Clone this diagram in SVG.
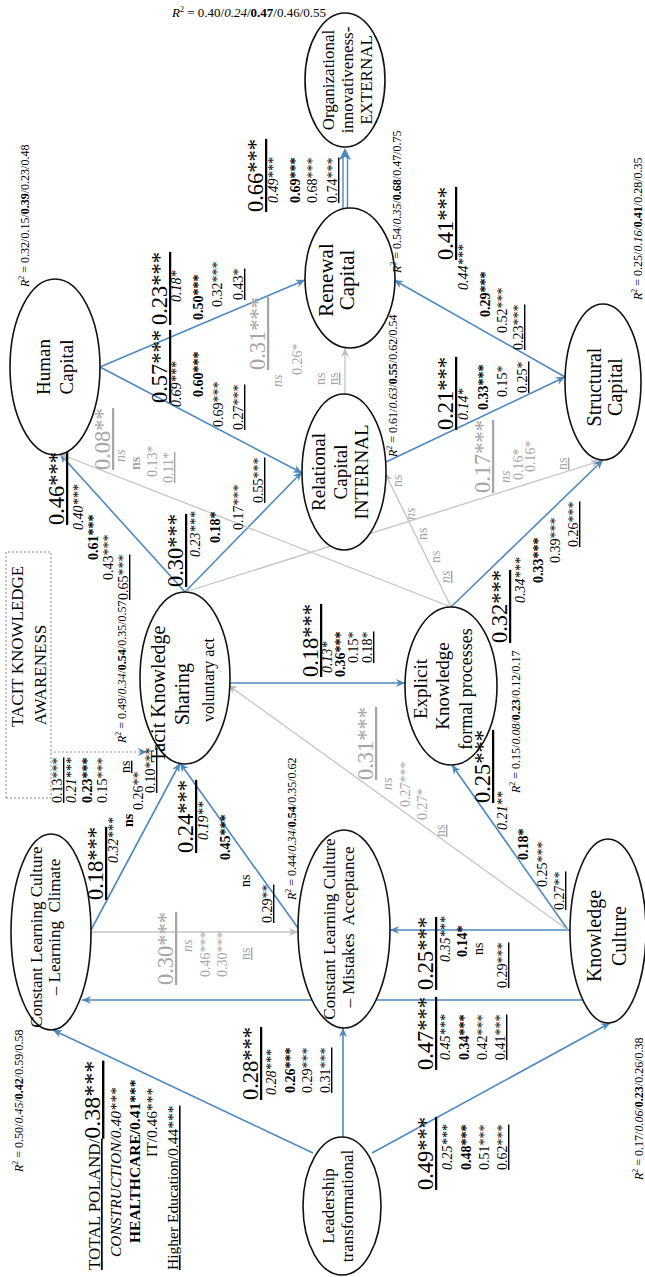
<svg xmlns="http://www.w3.org/2000/svg" width="645" height="1277" viewBox="0 0 645 1277">
<defs>
<style>
text{font-family:"Liberation Serif","Times New Roman",serif;fill:#000}
.nd{fill:#fff;stroke:#111;stroke-width:1.6}
.bl{stroke:#4d89c1;stroke-width:1.6;fill:none;marker-end:url(#ab)}
.gr{stroke:#c4c4c4;stroke-width:1.3;fill:none;marker-end:url(#ag)}
.nt{font-size:19px;text-anchor:middle}
.B{font-size:22.5px}
.s{font-size:14px}
.i{font-style:italic}
.b{font-weight:bold}
.u{text-decoration:underline}
.g{fill:#a6a6a6}
.r{font-size:12px}
.sp{font-size:8px}
</style>
<marker id="ab" viewBox="0 0 10 10" refX="10" refY="5" markerWidth="10" markerHeight="9" orient="auto" markerUnits="userSpaceOnUse"><path d="M0,0.5 L10,5 L0,9.5 L3,5z" fill="#4d89c1"/></marker>
<marker id="ag" viewBox="0 0 10 10" refX="10" refY="5" markerWidth="10" markerHeight="9" orient="auto" markerUnits="userSpaceOnUse"><path d="M0,0.5 L10,5 L0,9.5 L3,5z" fill="#bdbdbd"/></marker>
</defs>
<rect width="645" height="1277" fill="#fff"/>
<g transform="matrix(0,-1,1,0,0,1277)">
<g id="connectors">
<line class="bl" x1="124" y1="313" x2="247" y2="53"/>
<line class="bl" x1="140" y1="343" x2="249" y2="343"/>
<line class="bl" x1="124" y1="372" x2="254" y2="610"/>
<line class="bl" x1="277" y1="583" x2="277" y2="82"/>
<line class="bl" x1="347" y1="572" x2="347" y2="390"/>
<line class="gr" x1="345" y1="91" x2="345" y2="298"/>
<line class="bl" x1="347" y1="91" x2="514" y2="180"/>
<line class="bl" x1="349" y1="298" x2="514" y2="180"/>
<line class="bl" x1="347" y1="568" x2="512" y2="452"/>
<line class="gr" x1="347" y1="568" x2="592" y2="228"/>
<line class="bl" x1="594" y1="230" x2="594" y2="405"/>
<line class="bl" x1="685" y1="185" x2="823" y2="60"/>
<line class="bl" x1="685" y1="185" x2="805" y2="302"/>
<line class="gr" x1="685" y1="185" x2="816" y2="600"/>
<line class="gr" x1="670" y1="451" x2="823" y2="60"/>
<line class="gr" x1="670" y1="451" x2="804" y2="385"/>
<line class="bl" x1="670" y1="451" x2="817" y2="603"/>
<line class="bl" x1="910" y1="100" x2="997" y2="305"/>
<line class="bl" x1="910" y1="100" x2="804" y2="302"/>
<line class="gr" x1="883" y1="345" x2="929" y2="345"/>
<line class="bl" x1="815" y1="386" x2="900" y2="565"/>
<line class="bl" x1="900" y1="565" x2="997" y2="394"/>
<path d="M1069,343 H1121 M1069,347.5 H1121" stroke="#4d89c1" stroke-width="1.4" fill="none"/>
<path d="M1129,345 L1117,339 L1120,345 L1117,351z" fill="#4d89c1"/>
<line x1="525" y1="50" x2="525" y2="147" stroke="#999" stroke-width="1.2" stroke-dasharray="2,2" marker-end="url(#ab)"/>
</g>
<g id="n-leadership"><ellipse class="nd" cx="71" cy="342" rx="69" ry="39"/><text class="nt" x="71" y="334" style="font-size:17px">Leadership</text><text class="nt" x="71" y="353" style="font-size:17px">transformational</text></g>
<g id="n-learning"><ellipse class="nd" cx="345" cy="51" rx="98" ry="40"/><text class="nt" x="340" y="42" style="font-size:17px">Constant Learning Culture</text><text class="nt" x="350" y="60" style="font-size:17px" xml:space="preserve">– Learning  Climate</text></g>
<g id="n-mistakes"><ellipse class="nd" cx="348" cy="344" rx="99" ry="46"/><text class="nt" x="348" y="335" style="font-size:17px">Constant Learning Culture</text><text class="nt" x="350" y="354" style="font-size:17px" xml:space="preserve">– Mistakes  Acceptance</text></g>
<g id="n-knowledge"><ellipse class="nd" cx="346" cy="608" rx="92" ry="38"/><text class="nt" x="341" y="601" style="font-size:20px">Knowledge</text><text class="nt" x="341" y="626" style="font-size:20px">Culture</text></g>
<g id="n-tacit"><ellipse class="nd" cx="599" cy="185" rx="86" ry="45"/><text class="nt" x="583" y="165" style="font-size:20px">Tacit Knowledge</text><text class="nt" x="583" y="189" style="font-size:20px">Sharing</text><text class="nt" x="597" y="214" style="font-size:16px">voluntary act</text></g>
<g id="n-explicit"><ellipse class="nd" cx="591" cy="451" rx="79" ry="46"/><text class="nt" x="588" y="427">Explicit</text><text class="nt" x="591" y="449">Knowledge</text><text class="nt" x="588" y="472" style="font-size:18px">formal processes</text></g>
<g id="n-human"><ellipse class="nd" cx="910" cy="55" rx="88" ry="45"/><text class="nt" x="910" y="50">Human</text><text class="nt" x="910" y="73">Capital</text></g>
<g id="n-relational"><ellipse class="nd" cx="805" cy="344" rx="78" ry="42"/><text class="nt" x="805" y="325">Relational</text><text class="nt" x="805" y="347">Capital</text><text class="nt" x="805" y="368">INTERNAL</text></g>
<g id="n-structural"><ellipse class="nd" cx="895" cy="603" rx="78" ry="38"/><text class="nt" x="890" y="601" style="font-size:20px">Structural</text><text class="nt" x="890" y="622" style="font-size:20px">Capital</text></g>
<g id="n-renewal"><ellipse class="nd" cx="999" cy="350" rx="70" ry="45"/><text class="nt" x="997" y="333" style="font-size:21px">Renewal</text><text class="nt" x="997" y="354" style="font-size:21px">Capital</text></g>
<g id="n-org"><ellipse class="nd" cx="1197" cy="345" rx="67" ry="40"/><text class="nt" x="1197" y="334" style="font-size:17px">Organizational</text><text class="nt" x="1197" y="353" style="font-size:17px">innovativeness-</text><text class="nt" x="1197" y="372" style="font-size:17px">EXTERNAL</text></g>
<g id="n-awareness"><rect x="479" y="6" width="246" height="45" fill="#fff" stroke="#888" stroke-width="1" stroke-dasharray="2,2"/><text x="550" y="23" style="font-size:17px">TACIT KNOWLEDGE</text><text x="602" y="46" style="font-size:17px;text-anchor:middle">AWARENESS</text></g>
<g id="labels">
<text x="7" y="100" class="u" style="font-size:17px">TOTAL POLAND/<tspan style="font-size:24px">0.38***</tspan></text>
<text x="20" y="121" class="i" style="font-size:15.5px">CONSTRUCTION/0.40***</text>
<text x="34" y="140" class="b" style="font-size:15.5px">HEALTHCARE/0.41***</text>
<text x="120" y="157" style="font-size:15.5px">IT/0.46***</text>
<text x="7" y="178" class="u" style="font-size:15.5px">Higher Education/0.44***</text>

<text x="177" y="258" class="B u">0.28***</text><text x="182" y="276" class="s i">0.28***</text><text x="184" y="295" class="s b">0.26***</text><text x="184" y="312" class="s">0.29***</text><text x="184" y="330" class="s u">0.31***</text>
<text x="87" y="433" class="B u">0.49***</text><text x="107" y="452" class="s i">0.25***</text><text x="107" y="471" class="s b">0.48***</text><text x="107" y="489" class="s">0.51***</text><text x="107" y="507" class="s u">0.62***</text>
<text x="207" y="433" class="B u">0.47***</text><text x="217" y="450" class="s i">0.45***</text><text x="217" y="469" class="s b">0.34***</text><text x="217" y="487" class="s">0.42***</text><text x="217" y="505" class="s u">0.41***</text>
<text x="287" y="433" class="B u">0.25***</text><text x="315" y="450" class="s i">0.35***</text><text x="320" y="467" class="s b">0.14*</text><text x="322" y="483" class="s">ns</text><text x="289" y="507" class="s u">0.29***</text>
<text x="474" y="490" class="B u">0.25***</text><text x="447" y="507" class="s i">0.21**</text><text x="417" y="528" class="s b">0.18*</text><text x="390" y="547" class="s">0.25***</text><text x="367" y="564" class="s u">0.27**</text>
<text x="377" y="103" class="B u">0.18***</text><text x="414" y="118" class="s i">0.32***</text><text x="450" y="133" class="s b">ns</text><text x="467" y="143" class="s">0.26**</text><text x="484" y="155" class="s u">0.10***</text>
<text x="474" y="62" class="s u">0.13***</text><text x="474" y="76" class="s i">0.21***</text><text x="474" y="92" class="s b">0.23***</text><text x="474" y="107" class="s">0.15***</text><text x="504" y="130" class="s u">ns</text>
<text x="424" y="193" class="B u">0.24***</text><text x="437" y="208" class="s i">0.19**</text><text x="417" y="230" class="s b">0.45***</text><text x="390" y="250" class="s">ns</text><text x="354" y="272" class="s u">0.29**</text>
<text x="292" y="173" class="B u g">0.30***</text><text x="325" y="192" class="s i g">ns</text><text x="300" y="210" class="s g">0.46***</text><text x="300" y="227" class="s g">0.30***</text><text x="317" y="250" class="s u g">ns</text>
<text x="600" y="318" class="B u">0.18***</text><text x="604" y="332" class="s i">0.13*</text><text x="600" y="345" class="s b">0.36***</text><text x="614" y="358" class="s">0.15*</text><text x="614" y="372" class="s u">0.18*</text>
<text x="497" y="373" class="B u g">0.31***</text><text x="487" y="392" class="s i g">ns</text><text x="470" y="410" class="s g">0.27***</text><text x="457" y="427" class="s g">0.27*</text><text x="440" y="445" class="s u g">ns</text>
<text x="752" y="64" class="B u">0.46***</text><text x="747" y="83" class="s i">0.40***</text><text x="717" y="98" class="s b">0.61***</text><text x="697" y="113" class="s">0.43***</text><text x="677" y="128" class="s u">0.65***</text>
<text x="690" y="183" class="B u">0.30***</text><text x="720" y="200" class="s i">0.23***</text><text x="734" y="220" class="s b">0.18*</text><text x="747" y="243" class="s">0.17***</text><text x="774" y="263" class="s u">0.55***</text>
<text x="874" y="167" class="B u">0.57***</text><text x="870" y="181" class="s i">0.69***</text><text x="880" y="203" class="s b">0.60***</text><text x="850" y="223" class="s">0.69***</text><text x="847" y="243" class="s u">0.27***</text>
<text x="952" y="167" class="B u">0.23***</text><text x="975" y="181" class="s i">0.18*</text><text x="957" y="203" class="s b">0.50***</text><text x="970" y="222" class="s">0.32***</text><text x="977" y="243" class="s u">0.43*</text>
<text x="1065" y="263" class="B u">0.66***</text><text x="1074" y="278" class="s i">0.49***</text><text x="1074" y="300" class="s b">0.69***</text><text x="1074" y="317" class="s">0.68***</text><text x="1074" y="337" class="s u">0.74***</text>
<text x="907" y="265" class="B u g">0.31***</text><text x="890" y="282" class="s i g">ns</text><text x="902" y="302" class="s g">0.26*</text><text x="892" y="325" class="s g">ns</text><text x="892" y="338" class="s u g">ns</text>
<text x="807" y="110" class="B u g">0.08**</text><text x="815" y="125" class="s i g">ns</text><text x="807" y="140" class="s b g">ns</text><text x="800" y="157" class="s g">0.13*</text><text x="794" y="173" class="s u g">0.11*</text>
<text x="790" y="402" class="s g">ns</text><text x="757" y="415" class="s i g">ns</text><text x="737" y="427" class="s g">ns</text><text x="714" y="440" class="s g">ns</text><text x="694" y="450" class="s i u g">ns</text>
<text x="784" y="490" class="B u g">0.17***</text><text x="794" y="510" class="s i g">ns</text><text x="797" y="523" class="s g">0.16*</text><text x="805" y="535" class="s g">0.16*</text><text x="807" y="567" class="s u g">ns</text>
<text x="634" y="507" class="B u">0.32***</text><text x="674" y="525" class="s i">0.34***</text><text x="694" y="543" class="s b">0.33***</text><text x="714" y="560" class="s">0.39***</text><text x="730" y="578" class="s u">0.26***</text>
<text x="847" y="453" class="B u">0.21***</text><text x="857" y="468" class="s i">0.14*</text><text x="867" y="488" class="s b">0.33***</text><text x="880" y="507" class="s">0.15*</text><text x="884" y="527" class="s u">0.25*</text>
<text x="1017" y="453" class="B u">0.41***</text><text x="987" y="468" class="s i">0.44***</text><text x="960" y="490" class="s b">0.29***</text><text x="944" y="507" class="s">0.52***</text><text x="927" y="523" class="s u">0.23***</text>

<text x="990" y="29" class="r"><tspan class="i">R</tspan><tspan class="sp" dy="-5">2</tspan><tspan dy="5"> = 0.32/0.15/</tspan><tspan class="b">0.39</tspan>/0.23/0.48</text>
<text x="1004" y="401" class="r"><tspan class="i">R</tspan><tspan class="sp" dy="-5">2</tspan><tspan dy="5"> = 0.54/</tspan><tspan class="i">0.35</tspan>/<tspan class="b">0.68</tspan>/0.47/0.75</text>
<text x="820" y="397" class="r"><tspan class="i">R</tspan><tspan class="sp" dy="-5">2</tspan><tspan dy="5"> = 0.61/</tspan><tspan class="i">0.63</tspan>/<tspan class="b">0.55</tspan>/0.62/0.54</text>
<text x="977" y="642" class="r"><tspan class="i">R</tspan><tspan class="sp" dy="-5">2</tspan><tspan dy="5"> = 0.25/</tspan><tspan class="i">0.16</tspan>/<tspan class="b">0.41</tspan>/0.28/0.35</text>
<text x="534" y="126" class="r"><tspan class="i">R</tspan><tspan class="sp" dy="-5">2</tspan><tspan dy="5"> = 0.49/</tspan><tspan class="i">0.34</tspan>/<tspan class="b">0.54</tspan>/0.35/0.57</text>
<text x="377" y="296" class="r"><tspan class="i">R</tspan><tspan class="sp" dy="-5">2</tspan><tspan dy="5"> = 0.44/</tspan><tspan class="i">0.34</tspan>/<tspan class="b">0.54</tspan>/0.35/0.62</text>
<text x="484" y="520" class="r"><tspan class="i">R</tspan><tspan class="sp" dy="-5">2</tspan><tspan dy="5"> = 0.15/</tspan><tspan class="i">0.08</tspan>/<tspan class="b">0.23</tspan>/0.12/0.17</text>
<text x="97" y="643" class="r"><tspan class="i">R</tspan><tspan class="sp" dy="-5">2</tspan><tspan dy="5"> = 0.17/</tspan><tspan class="i">0.06</tspan>/<tspan class="b">0.23</tspan>/0.26/0.38</text>
<text x="105" y="23" class="r"><tspan class="i">R</tspan><tspan class="sp" dy="-5">2</tspan><tspan dy="5"> = 0.50/</tspan><tspan class="i">0.45</tspan>/<tspan class="b">0.42</tspan>/0.59/0.58</text>
</g>
</g>
<text x="172" y="17" class="r" style="font-size:13px"><tspan class="i">R</tspan><tspan class="sp" dy="-5">2</tspan><tspan dy="5"> = 0.40/</tspan><tspan class="i">0.24</tspan>/<tspan class="b">0.47</tspan>/0.46/0.55</text>
</svg>
